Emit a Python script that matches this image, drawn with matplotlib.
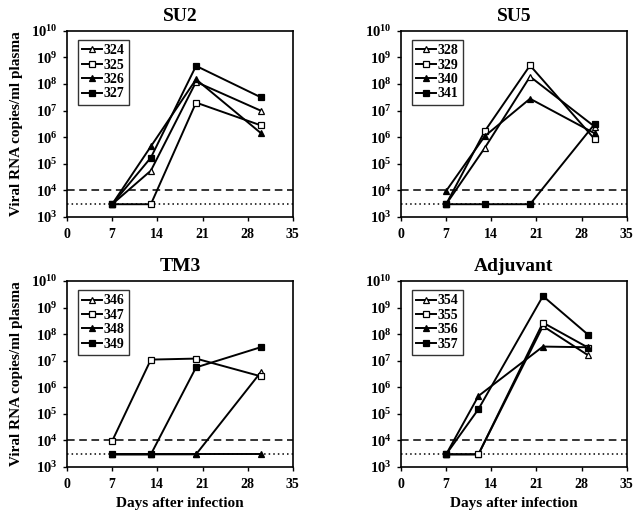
import math
import matplotlib
matplotlib.use('Agg')
import matplotlib.pyplot as plt
from matplotlib.ticker import FixedLocator, FuncFormatter

plt.rcParams['font.family'] = 'Liberation Serif'
plt.rcParams['font.weight'] = 'bold'
plt.rcParams['mathtext.fontset'] = 'custom'
plt.rcParams['mathtext.rm'] = 'Liberation Serif:bold'
plt.rcParams['mathtext.bf'] = 'Liberation Serif:bold'

# limits of detection
upper_limit = 1e4
lower_limit = 3e3

# SU2
su2_days = [7, 13, 20, 30]
su2_labels = ['324', '325', '326', '327']
su2_324 = [3e3, 5.5e4, 1.2e8, 1e7]
su2_325 = [3e3, 3e3, 2e7, 2.8e6]
su2_326 = [3e3, 4.5e5, 1.5e8, 1.45e6]
su2_327 = [3e3, 1.7e5, 4.8e8, 3.2e7]

# SU5
su5_days = [7, 13, 20, 30]
su5_labels = ['328', '329', '340', '341']
su5_328 = [3e3, 4e5, 1.9e8, 2.5e6]
su5_329 = [3e3, 1.7e6, 5e8, 8.5e5]
su5_340 = [9.5e3, 1.1e6, 2.8e7, 1.4e6]
su5_341 = [3e3, 3e3, 3e3, 3.1e6]

# TM3
tm3_days = [7, 13, 20, 30]
tm3_labels = ['346', '347', '348', '349']
tm3_346 = [3e3, 3e3, 3e3, 3.6e6]
tm3_347 = [9.5e3, 1.1e7, 1.2e7, 2.6e6]
tm3_348 = [3e3, 3e3, 3e3, 3e3]
tm3_349 = [3e3, 3e3, 5.6e6, 3.2e7]

# Adjuvant
adj_days = [7, 12, 22, 29]
adj_labels = ['354', '355', '356', '357']
adj_354 = [3e3, 3e3, 2e8, 1.6e7]
adj_355 = [3e3, 3e3, 2.7e8, 3.1e7]
adj_356 = [3e3, 4.7e5, 3.4e7, 3.2e7]
adj_357 = [3e3, 1.5e5, 2.7e9, 9.5e7]

panels = [
    ('SU2', su2_days, su2_labels, [su2_324, su2_325, su2_326, su2_327]),
    ('SU5', su5_days, su5_labels, [su5_328, su5_329, su5_340, su5_341]),
    ('TM3', tm3_days, tm3_labels, [tm3_346, tm3_347, tm3_348, tm3_349]),
    ('Adjuvant', adj_days, adj_labels, [adj_354, adj_355, adj_356, adj_357]),
]

# open triangle, open square, filled triangle, filled square
styles = [('^', 'white'), ('s', 'white'), ('^', 'black'), ('s', 'black')]

fig = plt.figure(figsize=(6.38, 5.14), dpi=100)
positions = [
    [0.105, 0.578, 0.354, 0.362],
    [0.6285, 0.578, 0.354, 0.362],
    [0.105, 0.0914, 0.354, 0.362],
    [0.6285, 0.0914, 0.354, 0.362],
]

for i, (title, days, labels, series) in enumerate(panels):
    ax = fig.add_axes(positions[i])
    ax.axhline(upper_limit, color='black', ls=(0, (5, 3)), lw=1.1)
    ax.axhline(lower_limit, color='black', ls=(0, (1, 2)), lw=1.1)
    for lab, vals, (mk, fc) in zip(labels, series, styles):
        ax.plot(days, vals, marker=mk, color='black', mfc=fc, mec='black',
                ms=3.8, mew=0.9, lw=1.4, label=lab)
    ax.set_yscale('log')
    ax.set_ylim(1e3, 1e10)
    ax.set_xlim(0, 35)
    ax.set_xticks([0, 7, 14, 21, 28, 35])
    ax.yaxis.set_major_locator(FixedLocator([10.0 ** k for k in range(3, 11)]))
    ax.yaxis.set_minor_locator(FixedLocator([]))
    ax.yaxis.set_major_formatter(FuncFormatter(
        lambda v, p: r'$\mathbf{10^{%d}}$' % round(math.log10(v))))
    ax.tick_params(axis='both', direction='out', length=3, width=1, labelsize=10.5)
    ax.tick_params(axis='x', pad=5, labelsize=10)
    for s in ax.spines.values():
        s.set_linewidth(1.2)
    ax.set_title(title, fontsize=14, fontweight='bold', pad=7)
    if i % 2 == 0:
        ax.set_ylabel('Viral RNA copies/ml plasma', fontsize=11, fontweight='bold', labelpad=6)
    if i >= 2:
        ax.set_xlabel('Days after infection', fontsize=11, fontweight='bold', labelpad=4)
    leg = ax.legend(loc='upper left', bbox_to_anchor=(0.05, 0.95), fontsize=10,
                    frameon=True, fancybox=False, edgecolor='black',
                    handlelength=1.4, handletextpad=0.15, borderpad=0.3,
                    labelspacing=0.1, borderaxespad=0)
    leg.get_frame().set_linewidth(1.0)

fig.savefig('out.png', dpi=100)
